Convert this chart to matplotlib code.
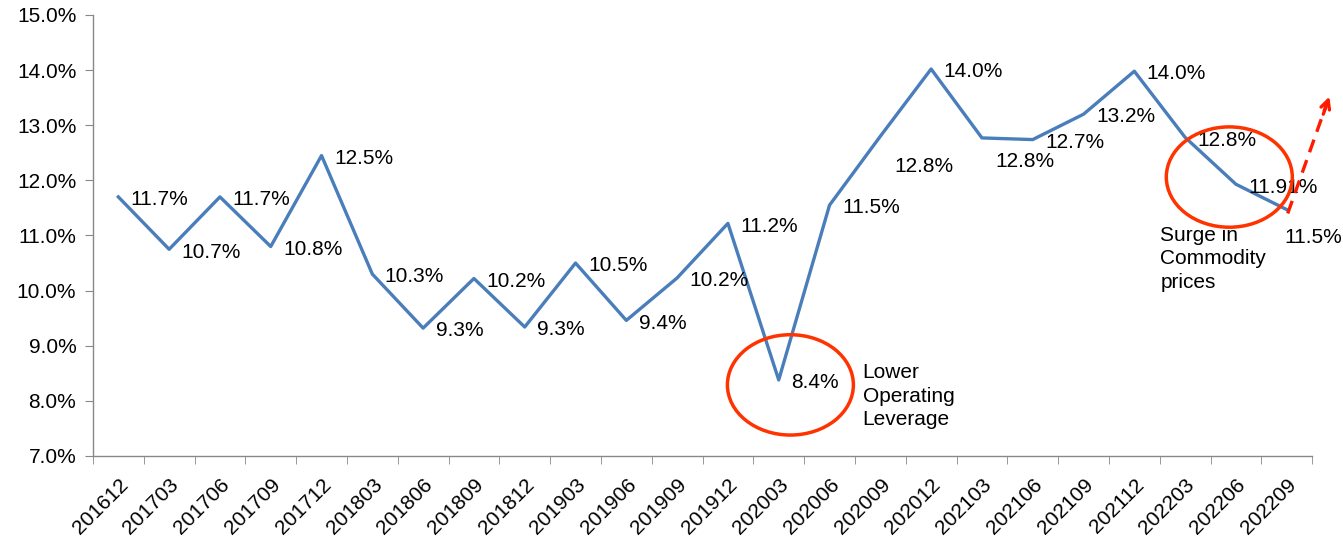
import matplotlib.pyplot as plt
import numpy as np
from matplotlib.patches import Ellipse

plt.rcParams['font.family'] = ['Liberation Sans', 'DejaVu Sans']

periods = ['201612', '201703', '201706', '201709', '201712', '201803', '201806', '201809',
           '201812', '201903', '201906', '201909', '201912', '202003', '202006', '202009',
           '202012', '202103', '202106', '202109', '202112', '202203', '202206', '202209']
ratio = [11.7, 10.75, 11.7, 10.8, 12.45, 10.3, 9.32, 10.22, 9.34, 10.5, 9.46, 10.23,
         11.22, 8.38, 11.55, 12.8, 14.02, 12.77, 12.74, 13.2, 13.98, 12.78, 11.93, 11.47]
point_labels = ['11.7%', '10.7%', '11.7%', '10.8%', '12.5%', '10.3%', '9.3%', '10.2%',
                '9.3%', '10.5%', '9.4%', '10.2%', '11.2%', '8.4%', '11.5%', '12.8%',
                '14.0%', '12.8%', '12.7%', '13.2%', '14.0%', '12.8%', '11.91%', '11.5%']

# label offsets in points (dx, dy) where they differ from the default
label_offsets = {15: (10, -22), 17: (10, -17), 23: (-2, -20)}

fig = plt.figure(figsize=(13.43, 5.49), dpi=100)
ax = fig.add_axes([0.0692, 0.1694, 0.9078, 0.8033])

x = np.arange(len(periods))
blue = '#4a7ebb'
red = '#ff3300'
fs = 15
ax.plot(x, ratio, color=blue, lw=2.4, zorder=3)

for i, (v, lab) in enumerate(zip(ratio, point_labels)):
    dx, dy = label_offsets.get(i, (9, -2))
    ax.annotate(lab, (x[i], v), xytext=(dx, dy), textcoords='offset points',
                ha='left', va='center', fontsize=fs, color='black', zorder=4)

ax.set_xlim(-0.5, len(periods) - 0.5)
ax.set_ylim(7, 15)
ax.set_yticks(np.arange(7, 15.01, 1))
ax.set_yticklabels([f'{t:.1f}%' for t in np.arange(7, 15.01, 1)], fontsize=fs)

ax.set_xticks(x)
ax.set_xticklabels(periods, rotation=45, ha='right', rotation_mode='anchor', fontsize=fs)
ax.set_xticks(np.arange(-0.5, len(periods), 1), minor=True)
ax.tick_params(axis='x', which='major', length=0, pad=14)
ax.tick_params(axis='x', which='minor', length=6, color='#888888', direction='out')
ax.tick_params(axis='y', length=6, color='#888888', direction='out', pad=6)

for s in ['top', 'right']:
    ax.spines[s].set_visible(False)
for s in ['left', 'bottom']:
    ax.spines[s].set_color('#888888')
    ax.spines[s].set_linewidth(1.0)

# annotations
ax.add_patch(Ellipse((13.23, 8.29), 2.48, 1.82, fill=False, ec=red, lw=2.5, zorder=5))
ax.add_patch(Ellipse((21.87, 12.06), 2.48, 1.82, fill=False, ec=red, lw=2.5, zorder=5))
ax.text(14.65, 8.68, 'Lower\nOperating\nLeverage', fontsize=fs, va='top', ha='left',
        linespacing=1.3)
ax.text(20.51, 11.18, 'Surge in\nCommodity\nprices', fontsize=fs, va='top', ha='left',
        linespacing=1.3)

# dashed trend arrow with an open head
ax.plot([23.02, 23.8], [11.4, 13.42], color='#ff1a00', lw=2.4, ls=(0, (4, 2.5)),
        clip_on=False, zorder=5)
ax.annotate('', xy=(23.84, 13.52), xytext=(23.72, 13.2), annotation_clip=False,
            arrowprops=dict(arrowstyle='->', color='#ff1a00', lw=2.4,
                            mutation_scale=16, shrinkA=0, shrinkB=0))

fig.savefig('out.png', dpi=100)
